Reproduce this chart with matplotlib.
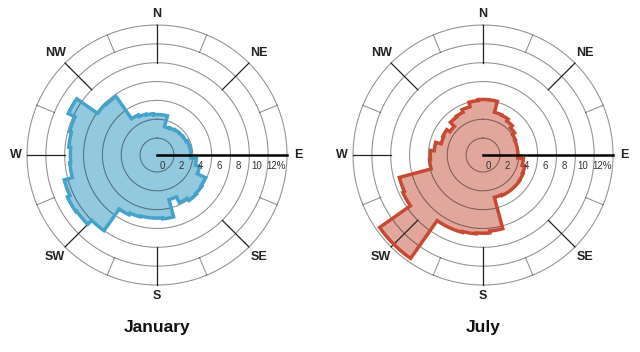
import numpy as np
import matplotlib.pyplot as plt

plt.rcParams['font.family'] = ['Liberation Sans', 'DejaVu Sans']

# wind frequency (%) per 10 degree sector, clockwise from north
sectors = np.arange(0, 360, 10)
january = [2.5, 2.5, 1.3, 1.4, 1.5, 1.55, 1.6, 1.75, 1.8,
           1.8, 2.4, 2.9, 3.9, 4.0, 4.1, 3.8, 3.1, 5.0,
           4.9, 4.9, 5.0, 5.2, 8.0, 8.6, 8.7, 8.4, 7.5,
           7.4, 7.6, 7.8, 8.6, 5.9, 5.8, 2.9, 2.7, 2.6]
july = [4.1, 4.1, 2.9, 2.85, 2.6, 2.3, 2.0, 1.9, 1.9,
        1.9, 2.5, 2.8, 2.9, 2.95, 2.95, 2.95, 2.85, 6.3,
        6.5, 6.6, 6.7, 6.7, 11.6, 11.6, 7.6, 7.4, 3.9,
        3.8, 3.4, 2.8, 2.9, 2.5, 3.1, 3.2, 3.5, 4.0]

rings = [0, 2, 4, 6, 8, 10, 12]
ring_labels = ['0', '2', '4', '6', '8', '10', '12%']
compass = ['N', 'NE', 'E', 'SE', 'S', 'SW', 'W', 'NW']
compass_deg = [0, 45, 90, 135, 180, 225, 270, 315]

months = ['January', 'July']
faces = ['#92c9df', '#e2a79c']
edges = ['#45a2c9', '#c64a33']

R_MIN = -1.8
R_MAX = 12


def outline(vals):
    th, r = [], []
    for c, v in zip(sectors, vals):
        a = np.radians(np.linspace(c - 5, c + 5, 8))
        th.extend(a)
        r.extend([v] * len(a))
    th.append(th[0])
    r.append(r[0])
    return th, r


fig = plt.figure(figsize=(6.4, 3.52), dpi=100)
boxes = [[0.0422, 0.1903, 0.40625, 0.7386], [0.5516, 0.1903, 0.40625, 0.7386]]

for box, data, name, fc, ec in zip(boxes, [january, july], months, faces, edges):
    ax = fig.add_axes(box, projection='polar')
    ax.set_theta_zero_location('N')
    ax.set_theta_direction(-1)
    ax.set_ylim(R_MIN, R_MAX)
    ax.set_axis_off()

    th, r = outline(data)
    ax.fill(th, r, color=fc, lw=0, zorder=1)

    full = np.linspace(0, 2 * np.pi, 361)
    for v in rings:
        ax.plot(full, [v] * len(full), color='black', alpha=0.42, lw=0.8,
                zorder=2, clip_on=False)

    # minor spokes between outer rings
    for d in np.arange(22.5, 360, 45):
        ax.plot([np.radians(d)] * 2, [10, 12], color='black', alpha=0.42,
                lw=0.8, zorder=2, clip_on=False)
    # major spokes
    for d in compass_deg:
        if d == 90:
            continue
        ax.plot([np.radians(d)] * 2, [8, 12], color='#222222', lw=0.9,
                zorder=2, clip_on=False)

    ax.plot(th, r, color=ec, lw=2.5, zorder=3, solid_joinstyle='miter',
            clip_on=False)

    ax.plot([np.pi / 2] * 2, [R_MIN, R_MAX], color='black', lw=1.8, zorder=4,
            clip_on=False)

    for v, lab in zip(rings, ring_labels):
        ax.annotate(lab, xy=(np.pi / 2, v - 1.2), xytext=(0, -8),
                    textcoords='offset points', ha='center', va='center',
                    fontsize=7, color='#333333', zorder=5)

    for d, lab in zip(compass_deg, compass):
        rr = 13.15 if d % 90 == 0 else 13.5
        ax.text(np.radians(d), rr, lab, ha='center', va='center',
                fontsize=9, fontweight='bold', color='#222222',
                clip_on=False)

    fig.text(box[0] + box[2] / 2, 0.071, name, ha='center', va='center',
             fontsize=12.5, fontweight='bold', color='#111111')

fig.savefig('out.png', dpi=100, facecolor='white')
